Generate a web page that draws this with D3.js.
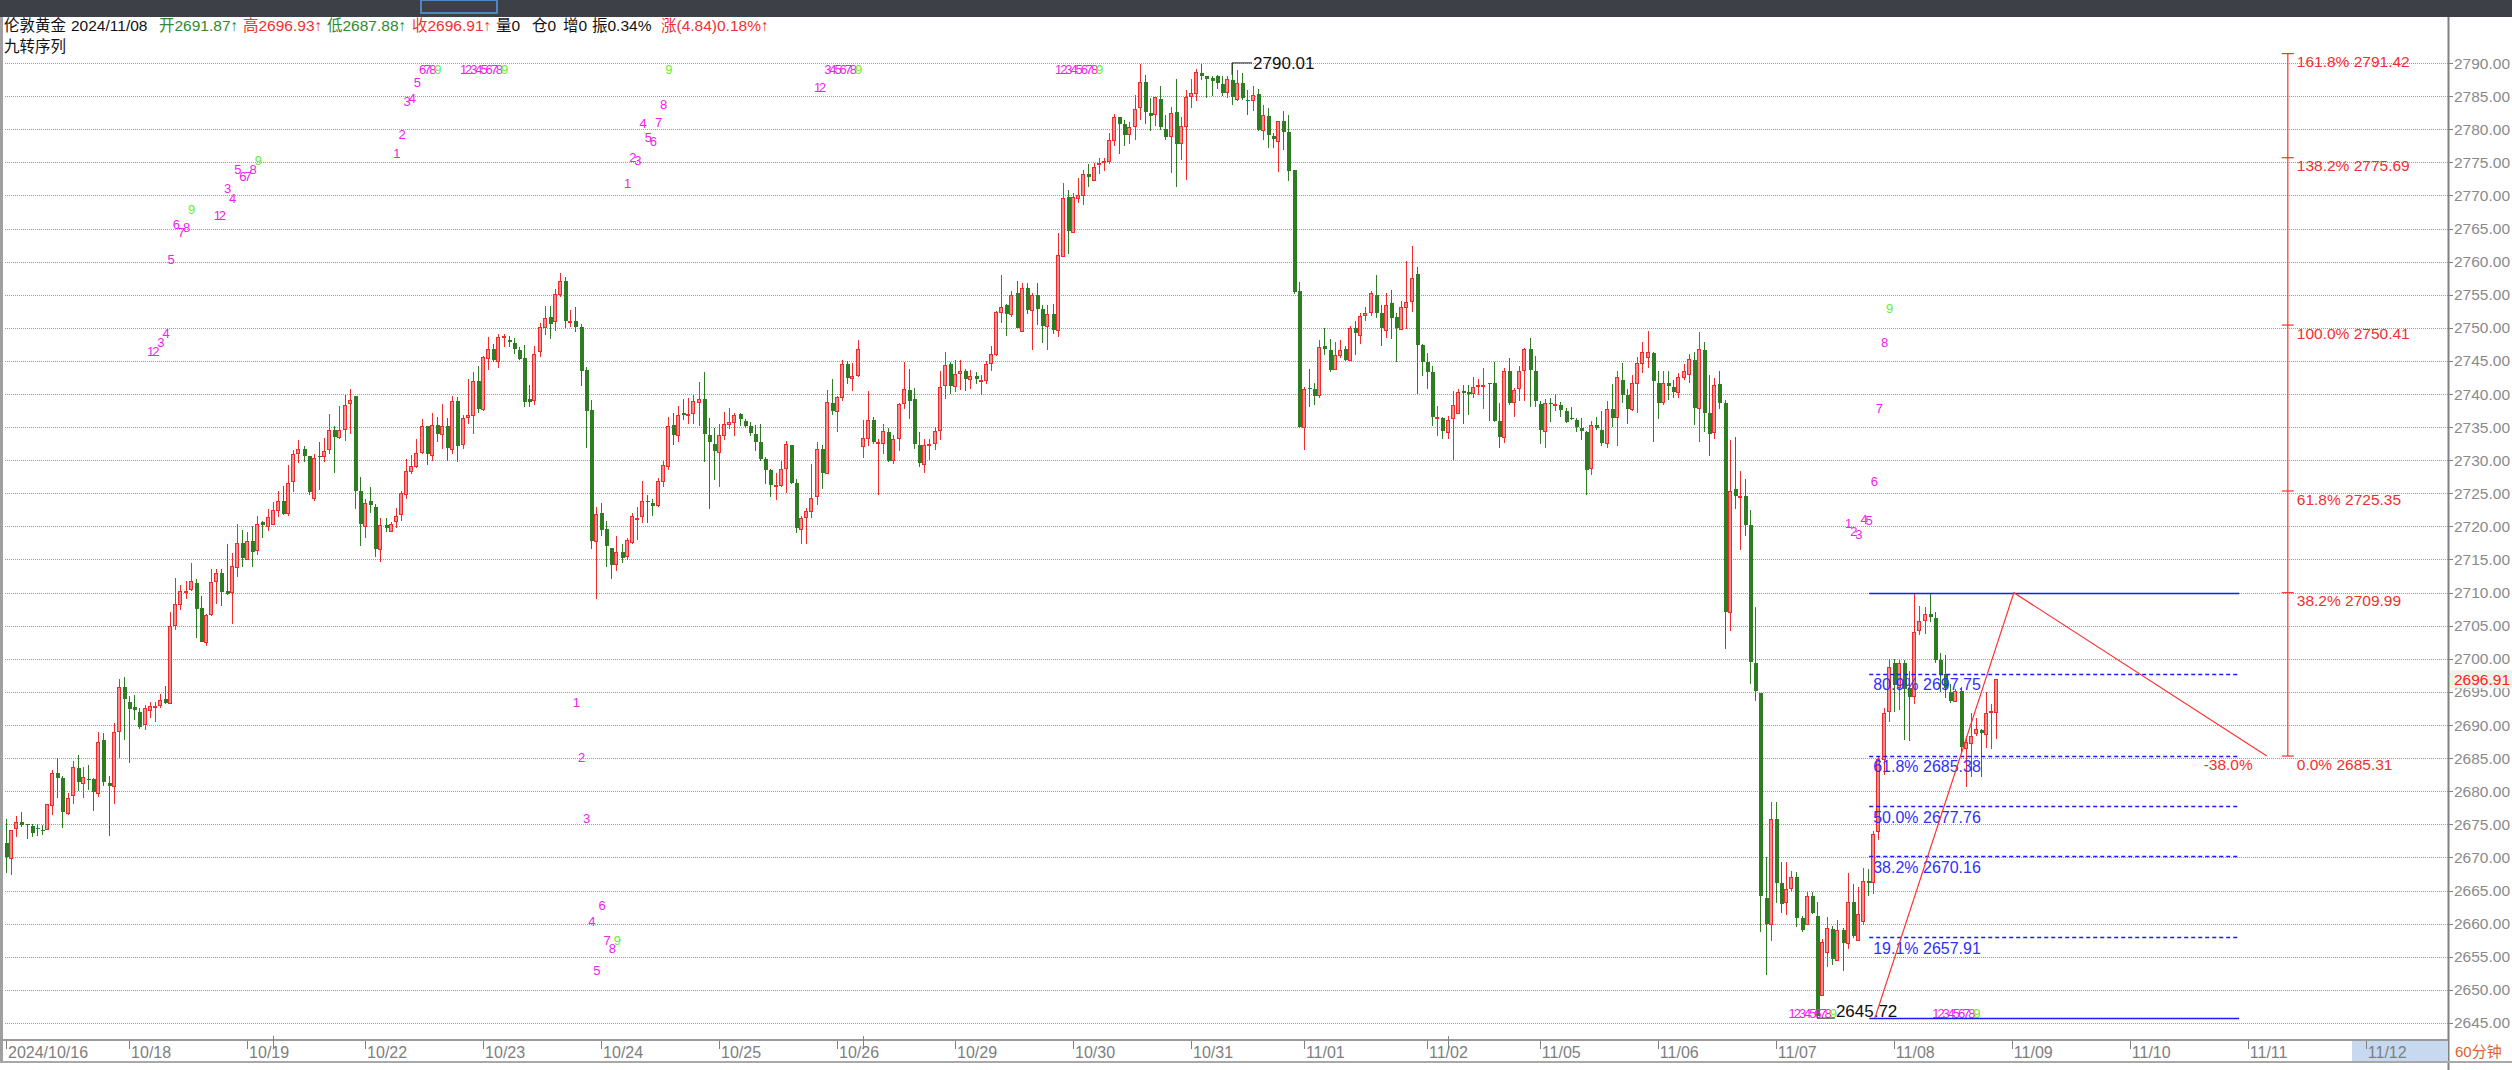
<!DOCTYPE html>
<html><head><meta charset="utf-8">
<script src="https://cdn.jsdelivr.net/npm/d3@7/dist/d3.min.js"></script>
<style>html,body{margin:0;padding:0;background:#fff;}svg{display:block;}</style>
</head><body>
<svg id="c" width="2512" height="1070"></svg>
<script>
// ---------------- DATA ----------------
const opens=[2672.1,2670.0,2674.4,2675.4,2675.0,2674.8,2674.4,2674.2,2674.2,2678.0,2682.8,2682.0,2676.7,2679.3,2683.5,2681.3,2681.9,2681.8,2679.8,2687.7,2681.3,2680.8,2689.2,2695.7,2693.5,2692.7,2692.0,2690.1,2692.3,2692.8,2693.0,2693.9,2693.3,2705.2,2708.3,2710.1,2710.5,2711.5,2707.7,2702.5,2706.7,2711.7,2712.9,2710.2,2710.0,2713.9,2717.5,2715.1,2717.8,2716.3,2720.6,2720.1,2720.4,2722.5,2723.8,2722.0,2726.8,2731.1,2731.7,2730.6,2724.3,2730.6,2730.7,2731.7,2734.5,2733.5,2734.7,2738.7,2739.7,2725.4,2720.2,2723.8,2723.0,2716.6,2720.2,2719.3,2720.7,2721.9,2724.9,2728.4,2729.2,2731.1,2735.2,2730.7,2735.3,2733.9,2735.2,2731.8,2739.0,2732.3,2736.5,2736.8,2742.0,2737.8,2745.4,2746.8,2745.0,2748.6,2748.1,2747.7,2746.7,2745.4,2739.3,2739.2,2746.5,2750.2,2751.7,2751.0,2755.0,2757.1,2750.8,2751.1,2750.1,2743.6,2737.6,2717.8,2722.0,2719.6,2716.8,2714.3,2716.2,2715.5,2717.6,2721.1,2721.7,2723.8,2723.5,2723.1,2726.9,2729.1,2735.3,2733.9,2737.1,2736.8,2737.1,2738.8,2739.3,2733.8,2732.5,2731.3,2733.8,2735.5,2735.8,2737.0,2735.9,2735.2,2734.0,2732.7,2730.2,2728.5,2726.0,2726.2,2728.8,2732.3,2726.5,2719.6,2721.5,2722.4,2724.6,2731.7,2728.0,2738.6,2737.4,2739.5,2744.6,2742.4,2742.9,2732.1,2733.4,2736.1,2732.7,2732.6,2734.3,2730.0,2733.4,2738.7,2740.6,2739.2,2732.3,2729.5,2732.3,2732.6,2734.6,2741.4,2744.5,2741.2,2743.2,2743.5,2742.3,2742.7,2742.0,2742.1,2744.7,2746.1,2752.5,2753.5,2752.1,2755.3,2749.5,2756.0,2752.8,2755.0,2752.8,2750.3,2752.1,2749.7,2760.9,2769.8,2764.5,2769.6,2770.0,2773.2,2772.4,2774.8,2775.1,2775.2,2778.5,2781.9,2780.8,2779.2,2780.4,2783.3,2787.1,2782.4,2782.2,2784.5,2780.1,2779.0,2782.6,2777.9,2780.5,2784.9,2785.5,2788.5,2788.0,2787.7,2788.0,2786.8,2785.6,2787.5,2784.6,2787.0,2784.4,2784.4,2785.3,2779.9,2782.0,2778.9,2778.2,2781.2,2779.6,2773.8,2755.5,2734.9,2740.9,2740.8,2739.8,2747.2,2746.6,2743.8,2746.0,2746.8,2745.2,2749.9,2749.0,2752.0,2752.4,2755.0,2752.2,2749.7,2753.7,2751.7,2749.8,2753.2,2754.1,2758.2,2747.4,2744.8,2743.3,2736.4,2736.3,2734.2,2736.4,2737.1,2740.5,2740.3,2740.2,2741.2,2741.3,2741.6,2741.6,2735.9,2733.5,2743.4,2738.8,2740.8,2743.7,2746.8,2743.4,2738.5,2734.4,2738.6,2738.3,2738.4,2737.5,2736.4,2736.1,2734.9,2734.3,2728.8,2735.3,2734.5,2732.6,2737.8,2736.4,2742.1,2739.8,2737.7,2741.7,2744.6,2745.5,2746.2,2741.7,2738.7,2741.7,2741.0,2740.3,2742.6,2743.1,2745.2,2737.9,2746.7,2737.1,2734.3,2741.5,2738.7,2707.1,2725.7,2724.6,2724.6,2720.2,2699.4,2694.9,2663.9,2660.0,2675.8,2666.2,2663.3,2665.5,2667.0,2660.8,2660.0,2664.2,2661.2,2649.2,2655.6,2659.2,2654.6,2659.1,2657.0,2663.2,2657.5,2660.5,2666.5,2666.4,2673.9,2684.8,2692.0,2699.3,2695.6,2699.4,2695.6,2694.3,2704.4,2705.8,2706.7,2706.1,2699.8,2697.7,2695.0,2693.6,2695.1,2686.6,2687.4,2688.8,2689.3,2688.7,2691.9,2691.87];
const highs=[2675.8,2674.2,2676.3,2676.8,2675.1,2675.0,2675.0,2674.9,2678.1,2683.2,2685.0,2682.3,2679.8,2684.5,2685.4,2683.7,2683.9,2682.0,2688.9,2688.8,2682.3,2690.3,2697.0,2697.2,2694.4,2694.5,2692.5,2693.0,2693.4,2693.5,2694.7,2695.9,2707.0,2712.2,2711.2,2711.7,2714.4,2712.0,2709.5,2706.8,2713.5,2713.5,2713.5,2717.4,2716.0,2720.3,2719.4,2719.2,2720.1,2721.5,2720.8,2722.6,2723.7,2725.3,2726.1,2729.3,2731.6,2733.0,2732.1,2730.6,2730.9,2732.7,2733.3,2737.0,2735.2,2738.2,2739.9,2740.7,2739.7,2727.4,2724.2,2726.0,2723.4,2721.2,2721.2,2720.6,2722.8,2725.4,2730.2,2730.8,2733.2,2736.2,2735.2,2737.2,2736.5,2738.5,2736.3,2739.7,2739.5,2736.8,2742.2,2743.3,2744.3,2745.7,2748.6,2747.5,2749.1,2749.1,2748.7,2748.4,2747.1,2747.4,2741.3,2747.2,2750.8,2753.3,2753.3,2755.8,2758.3,2757.7,2752.7,2753.1,2750.6,2744.1,2739.1,2722.9,2723.5,2720.8,2716.8,2718.5,2717.3,2718.2,2722.0,2723.0,2726.9,2724.7,2724.2,2727.3,2729.9,2736.5,2737.2,2738.2,2739.3,2739.4,2739.8,2741.8,2743.3,2736.3,2734.8,2735.5,2737.3,2737.9,2737.1,2737.2,2736.2,2735.8,2735.3,2735.4,2730.5,2728.6,2728.0,2729.9,2732.9,2732.3,2727.2,2721.5,2722.8,2729.5,2732.7,2732.3,2740.6,2742.2,2739.7,2745.1,2745.0,2744.7,2748.1,2736.1,2740.5,2736.6,2733.2,2735.5,2734.8,2733.8,2738.7,2744.8,2743.8,2740.9,2734.2,2733.2,2733.2,2735.0,2743.5,2746.3,2744.8,2745.1,2745.1,2743.8,2743.6,2743.3,2742.8,2745.0,2747.2,2752.6,2758.0,2753.6,2755.5,2757.0,2756.7,2756.7,2755.3,2756.8,2753.5,2753.4,2753.6,2764.3,2771.8,2770.8,2770.4,2772.7,2773.9,2774.8,2774.9,2775.6,2775.6,2779.4,2782.3,2781.9,2781.4,2781.1,2785.1,2789.8,2788.2,2784.7,2784.9,2786.6,2782.2,2783.4,2787.6,2781.9,2785.9,2787.6,2789.1,2789.9,2788.1,2788.0,2788.2,2788.1,2788.1,2790.01,2789.0,2788.5,2785.9,2786.6,2786.1,2783.7,2783.2,2779.5,2781.3,2782.7,2782.1,2773.8,2756.9,2741.0,2743.8,2741.7,2748.1,2749.9,2748.3,2747.9,2748.1,2747.3,2750.3,2751.1,2752.3,2753.1,2755.5,2758.0,2753.5,2755.2,2755.7,2752.2,2754.1,2760.1,2762.4,2759.2,2747.6,2746.2,2744.2,2738.2,2736.6,2736.7,2740.5,2740.8,2741.4,2741.4,2742.6,2742.2,2743.9,2741.7,2744.8,2738.7,2744.0,2745.5,2740.9,2744.2,2747.0,2748.5,2745.7,2739.0,2739.2,2739.4,2740.0,2738.8,2737.9,2738.0,2736.4,2736.4,2734.4,2735.9,2736.5,2737.5,2738.9,2741.5,2743.4,2744.7,2740.7,2742.8,2745.6,2747.8,2749.5,2746.3,2743.5,2743.5,2743.5,2742.1,2743.1,2744.6,2746.0,2746.3,2749.3,2747.9,2742.9,2742.4,2743.5,2739.1,2733.0,2733.5,2728.4,2727.1,2722.5,2707.8,2694.9,2670.1,2678.3,2678.3,2669.3,2669.3,2668.0,2667.8,2661.1,2664.7,2664.7,2663.3,2657.7,2661.0,2659.7,2660.6,2659.4,2667.6,2666.0,2665.6,2668.4,2668.2,2674.0,2685.1,2692.5,2700.0,2699.9,2699.8,2699.8,2698.2,2709.99,2708.0,2707.9,2709.9,2707.1,2700.9,2700.5,2696.2,2695.4,2695.7,2688.4,2691.8,2691.0,2689.4,2695.0,2693.1,2696.93];
const lows=[2667.7,2667.3,2673.1,2674.6,2672.8,2673.1,2673.2,2673.4,2674.1,2676.4,2679.0,2674.5,2676.4,2678.1,2680.1,2679.0,2680.2,2677.0,2679.1,2680.8,2673.3,2678.0,2685.0,2687.7,2684.2,2690.8,2689.4,2689.2,2691.0,2690.5,2692.5,2693.1,2693.1,2704.3,2707.4,2709.0,2710.3,2703.1,2702.5,2702.0,2706.5,2708.3,2708.0,2709.6,2705.2,2712.4,2713.9,2714.9,2713.9,2715.7,2718.3,2719.3,2720.2,2721.4,2721.7,2721.5,2725.2,2729.6,2729.8,2724.8,2723.8,2725.5,2729.7,2731.0,2728.0,2733.2,2732.9,2733.9,2722.6,2717.1,2718.3,2722.0,2715.4,2714.6,2719.2,2719.2,2719.7,2720.8,2724.2,2727.9,2728.8,2730.9,2729.3,2729.9,2732.8,2731.7,2729.9,2730.9,2729.7,2731.7,2735.5,2733.9,2737.1,2737.4,2743.7,2744.9,2744.0,2747.1,2747.1,2746.1,2745.1,2738.1,2738.1,2738.4,2745.6,2748.9,2748.3,2749.5,2754.7,2750.0,2750.1,2749.3,2741.2,2731.8,2716.6,2709.0,2718.6,2713.9,2712.0,2713.2,2714.4,2714.9,2717.3,2718.0,2720.5,2720.5,2721.5,2722.9,2726.0,2728.5,2732.3,2732.7,2736.0,2735.4,2735.4,2735.2,2729.8,2722.7,2727.0,2726.0,2733.1,2734.7,2733.6,2735.2,2734.8,2733.7,2731.4,2729.9,2726.4,2724.5,2724.0,2725.9,2725.0,2726.4,2719.0,2717.4,2717.3,2721.3,2723.3,2725.6,2727.9,2736.8,2734.3,2739.0,2741.5,2740.5,2742.6,2730.3,2732.1,2732.4,2724.8,2731.0,2729.8,2729.5,2731.4,2737.7,2736.2,2731.7,2728.9,2728.1,2730.0,2731.5,2733.0,2739.2,2740.0,2740.3,2740.6,2740.5,2740.8,2741.5,2739.9,2741.5,2743.5,2745.8,2750.8,2748.8,2751.6,2750.0,2749.3,2752.1,2746.7,2750.4,2747.7,2746.7,2749.1,2748.6,2760.8,2761.2,2764.3,2768.8,2768.5,2771.3,2772.1,2773.2,2773.7,2774.8,2777.4,2776.2,2777.4,2777.7,2778.4,2781.4,2780.8,2779.8,2780.5,2779.9,2778.4,2773.4,2771.2,2775.4,2772.3,2783.2,2784.2,2787.5,2784.7,2785.0,2786.1,2785.0,2784.7,2783.6,2784.3,2784.4,2782.1,2782.7,2779.8,2778.3,2777.1,2777.1,2773.5,2776.9,2772.2,2755.1,2734.9,2731.6,2738.1,2738.4,2739.4,2745.9,2743.3,2743.6,2745.5,2745.0,2745.0,2745.9,2747.6,2751.0,2751.8,2751.5,2747.3,2748.5,2748.3,2744.9,2749.6,2749.8,2752.4,2740.0,2742.7,2740.7,2735.1,2733.6,2733.2,2733.2,2730.0,2737.0,2735.5,2736.9,2739.4,2739.9,2737.7,2735.9,2735.7,2731.9,2732.6,2738.4,2736.6,2738.9,2738.9,2738.0,2738.0,2732.4,2731.9,2735.7,2737.4,2736.6,2735.6,2736.1,2734.2,2733.1,2724.8,2727.7,2734.6,2732.1,2731.9,2735.0,2732.1,2738.7,2735.5,2737.5,2737.2,2743.1,2744.0,2732.8,2736.2,2738.4,2739.1,2739.4,2739.4,2742.1,2741.7,2735.3,2732.7,2734.2,2730.7,2733.2,2737.8,2701.5,2704.2,2722.7,2716.5,2718.6,2696.2,2693.6,2658.7,2652.3,2657.4,2663.1,2661.6,2661.3,2665.0,2659.5,2658.8,2659.9,2661.4,2645.72,2649.0,2653.5,2653.8,2654.4,2652.8,2656.2,2657.9,2657.4,2659.8,2664.1,2664.4,2672.7,2682.5,2690.5,2692.0,2692.3,2687.7,2687.6,2693.1,2703.6,2703.8,2705.5,2699.3,2695.0,2694.1,2693.3,2693.5,2685.9,2680.6,2682.2,2688.4,2682.2,2686.6,2686.4,2687.88];
const closes=[2670.0,2674.2,2675.3,2675.0,2674.9,2673.8,2674.3,2674.1,2678.0,2682.8,2682.0,2676.8,2679.0,2683.6,2681.4,2682.2,2681.8,2679.8,2687.5,2681.3,2680.8,2689.0,2695.8,2693.9,2692.5,2692.3,2689.8,2692.5,2692.9,2692.9,2693.8,2693.3,2704.9,2708.3,2710.2,2710.3,2711.7,2707.5,2702.5,2706.6,2711.6,2712.9,2710.0,2709.8,2714.0,2717.5,2715.2,2717.8,2716.2,2720.3,2720.1,2721.4,2722.5,2723.8,2721.9,2726.6,2730.9,2731.7,2730.7,2725.2,2730.3,2730.5,2731.4,2734.6,2733.5,2734.5,2738.4,2739.1,2725.4,2720.4,2723.6,2723.2,2716.7,2720.2,2719.8,2720.4,2721.5,2725.0,2728.3,2729.1,2731.1,2735.1,2730.9,2735.3,2734.0,2735.1,2731.9,2739.0,2732.2,2736.3,2736.8,2742.0,2737.8,2745.6,2746.8,2745.1,2748.6,2748.8,2747.8,2746.8,2745.4,2738.7,2738.9,2746.1,2750.1,2751.5,2750.6,2755.1,2757.0,2751.0,2751.0,2750.2,2743.5,2737.4,2717.8,2721.9,2719.5,2717.0,2714.3,2716.1,2715.3,2717.9,2721.5,2721.2,2723.9,2723.6,2723.1,2726.8,2729.3,2735.2,2733.8,2736.9,2736.8,2737.0,2738.9,2739.3,2734.0,2732.7,2731.4,2733.8,2735.4,2735.8,2736.8,2736.3,2735.1,2734.1,2732.8,2730.2,2728.5,2726.3,2726.2,2728.6,2732.5,2726.5,2719.7,2721.3,2722.4,2724.3,2731.7,2728.0,2738.8,2737.4,2739.5,2744.5,2742.5,2742.7,2746.8,2733.3,2736.1,2732.8,2732.8,2734.4,2729.9,2733.2,2738.5,2740.8,2739.0,2732.4,2729.6,2732.3,2732.4,2734.4,2741.1,2744.4,2741.2,2743.0,2743.5,2742.3,2742.7,2742.3,2742.1,2744.5,2746.0,2752.4,2753.2,2752.1,2755.0,2750.0,2756.0,2752.7,2755.0,2752.9,2750.3,2752.1,2749.7,2761.0,2769.6,2764.6,2769.8,2770.0,2773.2,2772.8,2774.3,2774.9,2775.2,2778.3,2781.9,2780.8,2779.2,2780.3,2783.0,2787.1,2782.5,2782.0,2784.8,2780.3,2778.9,2782.4,2777.7,2780.5,2784.9,2785.4,2788.6,2788.0,2787.6,2787.2,2787.0,2785.4,2787.6,2785.0,2787.0,2784.8,2784.3,2785.1,2779.9,2782.2,2779.2,2778.5,2781.2,2779.6,2773.7,2755.4,2734.9,2740.7,2740.8,2739.8,2747.1,2746.8,2743.6,2745.9,2746.7,2745.2,2750.0,2749.1,2751.8,2752.3,2755.2,2752.3,2749.9,2753.5,2751.5,2750.0,2753.1,2753.9,2757.5,2747.5,2744.9,2743.3,2736.5,2736.5,2734.3,2736.0,2738.4,2740.3,2740.2,2740.0,2741.1,2741.3,2741.4,2741.4,2735.9,2733.5,2743.4,2738.6,2740.6,2743.4,2746.8,2743.7,2738.8,2734.5,2738.6,2738.4,2738.5,2737.6,2735.8,2736.2,2735.1,2734.5,2728.5,2735.3,2734.9,2732.6,2737.8,2736.4,2742.5,2739.8,2737.7,2741.7,2744.7,2746.3,2746.3,2741.9,2738.7,2741.6,2741.2,2740.3,2742.6,2743.5,2745.3,2738.0,2746.8,2737.2,2733.9,2741.4,2738.7,2707.1,2725.4,2724.7,2724.6,2720.2,2699.5,2695.2,2664.2,2660.0,2675.8,2666.2,2663.1,2665.3,2667.1,2660.8,2659.0,2664.2,2661.6,2646.1,2657.2,2659.3,2654.6,2659.1,2657.2,2663.2,2658.0,2661.4,2666.5,2666.2,2673.6,2684.8,2691.8,2698.7,2696.0,2699.3,2695.4,2694.3,2704.0,2705.7,2706.7,2706.2,2699.8,2697.7,2695.6,2693.6,2695.1,2686.6,2687.5,2688.4,2689.4,2688.9,2691.8,2692.07,2696.91];

const dateLabels=["2024/10/16","10/18","10/19","10/22","10/23","10/24","10/25","10/26","10/29","10/30","10/31","11/01","11/02","11/05","11/06","11/07","11/08","11/09","11/10","11/11","11/12"];
const dateIdx=[0,24,47,70,93,116,139,162,185,208,231,253,277,299,322,345,368,391,414,437,460];
const weekSepIdx=[52,167,281];
const priceTicks=d3.range(2645,2791,5);

// TD sequential (九转序列) labels
const tdIdx=[28,29,30,31,32,33,34,35,36, 41,42,43,44,45,46,47,48,49, 76,77,78,79,80,81,82,83,84, 89,90,91,92,93,94,95,96,97, 111,112,113,114,115,116,117,118,119, 121,122,123,124,125,126,127,128,129, 158,159,160,161,162,163,164,165,166, 205,206,207,208,209,210,211,212,213, 348,349,350,351,352,353,354,355,356, 359,360,361,362,363,364,365,366,367, 376,377,378,379,380,381,382,383,384];
const tdPrice=[2746.5,2746.5,2747.8,2749.1,2760.3,2765.6,2764.4,2765.2,2767.9,
 2767.0,2767.0,2771.0,2769.5,2774.0,2772.9,2772.9,2773.9,2775.3,
 2776.4,2779.2,2784.2,2784.6,2787.1,2789.1,2789.1,2789.1,2789.1,
 2789.1,2789.1,2789.1,2789.1,2789.1,2789.1,2789.1,2789.1,2789.1,
 2693.5,2685.1,2675.9,2660.4,2652.9,2662.8,2657.5,2656.3,2657.5,
 2771.9,2775.8,2775.3,2780.9,2778.7,2778.2,2781.1,2783.8,2789.1,
 2786.4,2786.4,2789.1,2789.1,2789.1,2789.1,2789.1,2789.1,2789.1,
 2789.1,2789.1,2789.1,2789.1,2789.1,2789.1,2789.1,2789.1,2789.1,
 2646.4,2646.4,2646.4,2646.4,2646.4,2646.4,2646.4,2646.4,2646.4,
 2720.5,2719.3,2718.8,2721.0,2720.9,2726.8,2737.8,2747.8,2752.9,
 2646.4,2646.4,2646.4,2646.4,2646.4,2646.4,2646.4,2646.4,2646.4];
const tdText=["1","2","3","4","5","6","7","8","9"];

// Fibonacci retracement (blue) drawn on 11/07-11/08 swing
const fibLevels=[2709.99,2697.75,2685.38,2677.76,2670.16,2657.91,2645.72];
const fibPct=["","80.9%","61.8%","50.0%","38.2%","19.1%",""];
const fibSpan=[363.2,435.3];
// Red swing lines and extension
const swingIdx=[364.3,391.4,440.7];
const swingPrice=[2645.72,2709.99,2685.31];
const extLevels=[2791.42,2775.69,2750.41,2725.35,2709.99,2685.31];
const extPct=["161.8%","138.2%","100.0%","61.8%","38.2%","0.0%"];
const extIdx=444.8;

// ---------------- DRAW ----------------
const W=2512,H=1070;
const svg=d3.select("#c");
const x=d3.scaleLinear().domain([0,460]).range([6,6+460*5.13]);
const y=d3.scaleLinear().domain([2645,2790]).range([63+145*6.62,63]);
const AXX=2448;
const RED="#f42a2a", REDFILL="#f29090", GREEN="#2f7d22";
const FONT="'Liberation Sans',Arial,'Noto Sans CJK SC',sans-serif";

svg.append("rect").attr("width",W).attr("height",H).attr("fill","#fff");
// top dark bar
svg.append("rect").attr("x",0).attr("y",0).attr("width",W).attr("height",17).attr("fill","#3d4046");
svg.append("rect").attr("x",421).attr("y",0).attr("width",76).attr("height",13).attr("fill","#3d4046").attr("stroke","#4f86c6").attr("stroke-width",2);

// gridlines
svg.append("g").selectAll("line").data(priceTicks).join("line")
  .attr("x1",5).attr("x2",AXX).attr("y1",d=>Math.round(y(d))+0.5).attr("y2",d=>Math.round(y(d))+0.5)
  .attr("stroke","#9a9a9a").attr("stroke-width",1).attr("stroke-dasharray","1,1");

// left border and right axis line
svg.append("line").attr("x1",1.5).attr("x2",1.5).attr("y1",17).attr("y2",1062).attr("stroke","#a0a0a0").attr("stroke-width",3);
svg.append("line").attr("x1",AXX+0.5).attr("x2",AXX+0.5).attr("y1",17).attr("y2",1070).attr("stroke","#808080").attr("stroke-width",2);

// y axis
const ya=svg.append("g");
ya.selectAll("line").data(priceTicks).join("line")
  .attr("x1",AXX).attr("x2",AXX+5).attr("y1",d=>Math.round(y(d))+0.5).attr("y2",d=>Math.round(y(d))+0.5)
  .attr("stroke","#808080");
ya.selectAll("text").data(priceTicks).join("text")
  .attr("x",AXX+6).attr("y",d=>y(d)).attr("dy","0.36em")
  .attr("font-family",FONT).attr("font-size",15.5).attr("fill","#8a8a8a")
  .text(d=>d.toFixed(2));

// x axis
svg.append("line").attr("x1",0).attr("x2",AXX).attr("y1",1040).attr("y2",1040).attr("stroke","#9a9a9a").attr("stroke-width",2);
svg.append("line").attr("x1",0).attr("x2",W).attr("y1",1062).attr("y2",1062).attr("stroke","#a8a8a8").attr("stroke-width",2);
svg.append("rect").attr("x",2352).attr("y",1041).attr("width",AXX-2352).attr("height",20).attr("fill","#c6d9f1");
const xa=svg.append("g");
xa.selectAll("line.t").data(dateIdx).join("line").attr("class","t")
  .attr("x1",d=>Math.round(x(d))+0.5).attr("x2",d=>Math.round(x(d))+0.5).attr("y1",1041).attr("y2",1049)
  .attr("stroke","#808080");
xa.selectAll("line.w").data(weekSepIdx).join("line").attr("class","w")
  .attr("x1",d=>Math.round(x(d))+0.5).attr("x2",d=>Math.round(x(d))+0.5).attr("y1",1036).attr("y2",1049)
  .attr("stroke","#808080");
xa.selectAll("text").data(dateIdx).join("text")
  .attr("x",d=>x(d)+2).attr("y",1052).attr("dy","0.36em")
  .attr("font-family","'Liberation Sans Narrow','Liberation Sans',Arial,sans-serif").attr("font-size",16)
  .attr("fill","#7e7e7e").text((d,i)=>dateLabels[i]);
svg.append("text").attr("x",AXX+7).attr("y",1052).attr("dy","0.36em").attr("font-family",FONT)
  .attr("font-size",15).attr("fill","#e0622c").text("60分钟");

// candles
const idx=d3.range(opens.length);
const up=i=>closes[i]>=opens[i];
const cg=svg.append("g").attr("shape-rendering","crispEdges");
cg.selectAll("line").data(idx).join("line")
  .attr("x1",i=>Math.round(x(i))+0.5).attr("x2",i=>Math.round(x(i))+0.5)
  .attr("y1",i=>y(highs[i])).attr("y2",i=>y(lows[i]))
  .attr("stroke",i=>up(i)?RED:GREEN).attr("stroke-width",1);
cg.selectAll("rect").data(idx).join("rect")
  .attr("x",i=>Math.round(x(i))-1.5)
  .attr("y",i=>Math.round(y(Math.max(opens[i],closes[i])))+(up(i)?0.5:0))
  .attr("width",i=>up(i)?3:4)
  .attr("height",i=>Math.max(1,Math.round(Math.abs(y(opens[i])-y(closes[i])))))
  .attr("fill",i=>up(i)?REDFILL:GREEN)
  .attr("stroke",i=>up(i)?RED:"none").attr("stroke-width",1);

// TD sequential labels
svg.append("g").selectAll("text").data(tdIdx).join("text")
  .attr("x",(d)=>x(d)+1).attr("y",(d,i)=>y(tdPrice[i])).attr("dy","0.36em")
  .attr("text-anchor","middle").attr("font-family",FONT).attr("font-size",13)
  .attr("fill",(d,i)=>tdText[i%9]==="9"?"#66ee33":"#f020f0")
  .text((d,i)=>tdText[i%9]);

// extreme labels
const hiI=highs.indexOf(d3.max(highs)), loI=lows.indexOf(d3.min(lows));
svg.append("line").attr("x1",x(hiI)).attr("x2",x(hiI)).attr("y1",y(highs[hiI])).attr("y2",y(highs[hiI])+12).attr("stroke","#222");
svg.append("line").attr("x1",x(hiI)).attr("x2",x(hiI)+20).attr("y1",y(highs[hiI])).attr("y2",y(highs[hiI])).attr("stroke","#222");
svg.append("text").attr("x",x(hiI)+21).attr("y",y(highs[hiI])).attr("dy","0.36em").attr("font-family",FONT)
  .attr("font-size",17).attr("fill","#111").text(highs[hiI].toFixed(2));
svg.append("line").attr("x1",x(loI)).attr("x2",x(loI)+18).attr("y1",y(lows[loI])).attr("y2",y(lows[loI])).attr("stroke","#222");
svg.append("text").attr("x",x(loI)+19).attr("y",y(lows[loI])-7).attr("dy","0.36em").attr("font-family",FONT)
  .attr("font-size",17).attr("fill","#111").text(lows[loI].toFixed(2));

// Fibonacci retracement (blue)
const fg=svg.append("g");
fibLevels.forEach((lv,i)=>{
  const solid=fibPct[i]==="";
  fg.append("line").attr("x1",x(fibSpan[0])).attr("x2",x(fibSpan[1]))
    .attr("y1",Math.round(y(lv))+0.5).attr("y2",Math.round(y(lv))+0.5)
    .attr("stroke","#1a1aff").attr("stroke-width",1.5)
    .attr("stroke-dasharray",solid?null:"4,3");
  if(!solid){
    fg.append("text").attr("x",x(fibSpan[0])+4).attr("y",y(lv)+11).attr("dy","0.36em")
      .attr("font-family",FONT).attr("font-size",16).attr("fill","#2f2fff")
      .text(fibPct[i]+" "+lv.toFixed(2));
  }
});

// red swing lines
const line=d3.line().x(d=>x(d[0])).y(d=>y(d[1]));
svg.append("path").attr("d",line(swingIdx.map((d,i)=>[d,swingPrice[i]])))
  .attr("fill","none").attr("stroke","#ff3030").attr("stroke-width",1.2);
// extension vertical
const ex=x(extIdx);
svg.append("line").attr("x1",ex).attr("x2",ex).attr("y1",y(extLevels[0])).attr("y2",y(extLevels[extLevels.length-1]))
  .attr("stroke","#ff3030").attr("stroke-width",1.2);
const eg=svg.append("g");
extLevels.forEach((lv,i)=>{
  eg.append("line").attr("x1",ex-6).attr("x2",ex+6).attr("y1",y(lv)).attr("y2",y(lv)).attr("stroke","#ff3030").attr("stroke-width",1.2);
  eg.append("text").attr("x",ex+9).attr("y",y(lv)+8).attr("dy","0.36em").attr("font-family",FONT)
    .attr("font-size",15.5).attr("fill","#f03030").text(extPct[i]+" "+lv.toFixed(2));
});
svg.append("text").attr("x",x(swingIdx[2])-14).attr("y",y(swingPrice[2])+8).attr("dy","0.36em")
  .attr("text-anchor","end").attr("font-family",FONT).attr("font-size",15.5).attr("fill","#f03030").text("-38.0%");

// last price label
const last=closes[closes.length-1];
svg.append("rect").attr("x",AXX+2).attr("y",y(last)-9).attr("width",W-AXX-2).attr("height",18).attr("fill","#eef2ea");
svg.append("text").attr("x",AXX+6).attr("y",y(last)).attr("dy","0.36em").attr("font-family",FONT)
  .attr("font-size",15.5).attr("fill","#ff2020").text(last.toFixed(2));

// header
const hdr=[
 ["伦敦黄金",4,"#111"],["2024/11/08",71,"#111"],["开2691.87↑",159,"#2e8b2e"],["高2696.93↑",243,"#f03030"],
 ["低2687.88↑",327,"#2e8b2e"],["收2696.91↑",412,"#f03030"],["量0",496,"#111"],["仓0",532,"#111"],
 ["增0",563,"#111"],["振0.34%",592,"#111"],["涨(4.84)0.18%↑",661,"#f03030"]];
svg.append("g").selectAll("text").data(hdr).join("text")
  .attr("x",d=>d[1]).attr("y",25).attr("dy","0.36em").attr("font-family",FONT).attr("font-size",15.5)
  .attr("fill",d=>d[2]).text(d=>d[0]);
svg.append("text").attr("x",4).attr("y",46).attr("dy","0.36em").attr("font-family",FONT).attr("font-size",15.5)
  .attr("fill","#111").text("九转序列");
</script>
</body></html>
